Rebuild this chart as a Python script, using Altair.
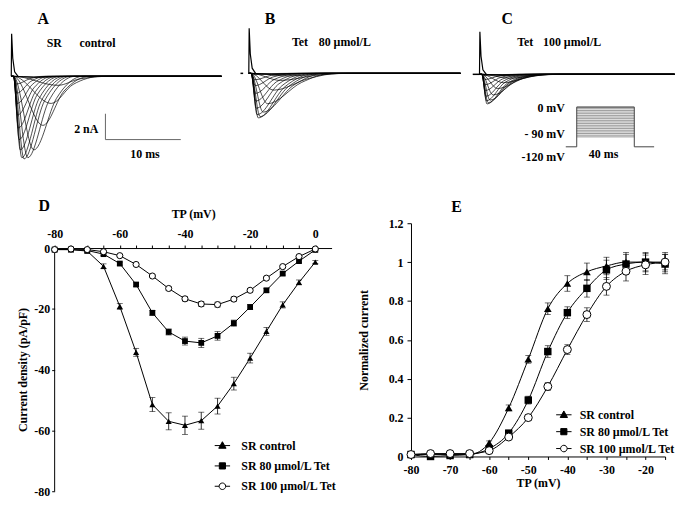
import altair as alt
import pandas as pd

FONT = "Liberation Serif"

# ---------------- Panel D: I-V relation (pA/pF) ----------------
tp_d = [-80, -75, -70, -65, -60, -55, -50, -45, -40, -35, -30, -25, -20, -15, -10, -5, 0]
ctrl_d = [-0.5, -0.5, -1.0, -6.0, -19.2, -34.3, -51.5, -57.0, -58.3, -56.8, -52.0, -44.6, -36.2, -27.4, -18.7, -11.3, -4.6]
ctrl_d_err = [0.3, 0.3, 0.4, 0.8, 1.0, 1.3, 2.3, 2.8, 3.0, 2.8, 2.6, 2.1, 1.6, 1.3, 1.0, 0.8, 0.5]
tet80_d = [-0.5, -0.5, -0.8, -2.0, -5.1, -12.0, -21.3, -27.6, -30.6, -31.2, -28.9, -24.7, -19.4, -13.9, -8.4, -4.3, -0.6]
tet80_d_err = [0.2, 0.2, 0.3, 0.4, 0.5, 0.6, 0.8, 1.0, 1.3, 1.5, 1.4, 1.0, 0.8, 0.6, 0.5, 0.4, 0.3]
tet100_d = [-0.5, -0.3, -0.5, -1.2, -2.5, -5.4, -9.2, -13.3, -16.7, -18.4, -18.6, -16.8, -13.9, -9.9, -6.1, -2.8, -0.3]
tet100_d_err = [0.2, 0.2, 0.2, 0.3, 0.3, 0.4, 0.5, 0.6, 0.7, 0.8, 0.8, 0.7, 0.6, 0.5, 0.4, 0.3, 0.2]

# ---------------- Panel E: activation curves ----------------
tp_e = [-80, -75, -70, -65, -60, -55, -50, -45, -40, -35, -30, -25, -20, -15]
ctrl_e = [0.01, 0.01, 0.01, 0.01, 0.07, 0.25, 0.50, 0.76, 0.89, 0.95, 0.98, 1.0, 1.0, 1.0]
ctrl_e_err = [0.005, 0.005, 0.005, 0.005, 0.01, 0.015, 0.02, 0.03, 0.04, 0.045, 0.045, 0.05, 0.045, 0.04]
tet80_e = [0.01, 0.0, 0.005, 0.01, 0.04, 0.12, 0.29, 0.54, 0.74, 0.865, 0.96, 0.99, 1.0, 0.99]
tet80_e_err = [0.005, 0.005, 0.005, 0.005, 0.01, 0.015, 0.02, 0.03, 0.03, 0.045, 0.05, 0.05, 0.05, 0.05]
tet100_e = [0.01, 0.015, 0.015, 0.015, 0.03, 0.10, 0.20, 0.36, 0.55, 0.73, 0.875, 0.953, 0.986, 1.0]
tet100_e_err = [0.005, 0.005, 0.005, 0.005, 0.01, 0.01, 0.015, 0.02, 0.025, 0.035, 0.045, 0.05, 0.05, 0.05]

series_names = ["SR control", "SR 80 µmol/L Tet", "SR 100 µmol/L Tet"]

# ---------------- Panels A-C: current traces (ms, nA) ----------------
A_tpk = [3.0, 3.0, 3.0, 6.2, 5.3, 4.2, 3.0, 2.2, 1.7, 1.4, 1.2, 1.05, 0.95, 0.85, 0.8, 0.75, 0.7]
A_ipk = [-0.05, -0.05, -0.1, -0.7, -2.1, -3.8, -5.7, -6.3, -6.4, -6.3, -5.7, -4.9, -4.0, -3.0, -2.1, -1.3, -0.6]
A_t30 = [6.0, 6.0, 6.0, 9.0, 8.2, 7.0, 6.0, 5.0, 4.4, 4.0, 3.7, 3.4, 3.2, 3.0, 2.8, 2.6, 2.5]
A_tend = [10, 10, 10, 13, 12, 10.5, 9.5, 8.5, 8.0, 7.5, 7.0, 6.5, 6.0, 5.5, 5.0, 4.6, 4.3]
A_tlast = 27.9

B_tpk = [3.0, 3.0, 3.0, 5.0, 4.2, 3.3, 2.5, 1.9, 1.5, 1.25, 1.1, 1.0, 0.95, 0.9, 0.85, 0.8, 0.75]
B_ipk = [-0.05, -0.05, -0.1, -0.2, -0.55, -1.3, -2.35, -3.0, -3.35, -3.45, -3.2, -2.7, -2.15, -1.55, -0.95, -0.5, -0.1]
B_t30 = [7.0, 7.0, 7.0, 9.5, 8.8, 8.0, 7.0, 6.0, 5.3, 4.8, 4.4, 4.0, 3.7, 3.4, 3.2, 3.0, 2.8]
B_tend = [11, 11, 11, 14, 13, 12, 11, 10, 9.5, 9, 8.5, 8, 7.5, 7, 6.5, 6, 5.5]
B_tlast = 28.1

C_tpk = [3.0, 3.0, 3.0, 4.8, 4.0, 3.2, 2.4, 1.8, 1.4, 1.15, 1.0, 0.92, 0.86, 0.8, 0.76, 0.72, 0.7]
C_ipk = [-0.05, -0.04, -0.06, -0.14, -0.3, -0.65, -1.1, -1.6, -2.0, -2.2, -2.3, -2.05, -1.7, -1.25, -0.8, -0.4, -0.08]
C_t30 = [6.0, 6.0, 6.0, 8.0, 7.4, 6.6, 5.8, 5.0, 4.4, 4.0, 3.7, 3.4, 3.2, 3.0, 2.8, 2.6, 2.5]
C_tend = [9, 9, 9, 11, 10.5, 10, 9.5, 9, 8.5, 8, 7.5, 7, 6.5, 6, 5.5, 5.2, 5]
C_tlast = 25.9

onset_ms = 0.3
spike_t = [0.0, 0.05, 0.2, 0.45, 0.9]
A_spike = [0.0, 3.3, 1.4, 0.35, 0.0]
B_spike = [0.0, 3.5, 1.5, 0.4, 0.0]
C_spike = [0.0, 3.3, 1.4, 0.35, 0.0]
B_hold_t = [-1.1, -0.75]
C_hold_t = [-0.9, 0.0]

# scale bar (panel A): 10 ms x 2 nA
bar_t = [12.5, 22.5]
bar_i = [-2.9, -4.9]

# voltage protocol (panel C)
prot_t = [-7.6, 0, 0, 40, 40, 53.8]
prot_v = [-120, -120, 0, 0, -120, -120]
prot_levels = [0, -5, -10, -15, -20, -25, -30, -35, -40, -45, -50, -55, -60, -65, -70, -75, -80, -85, -90]


# ---------------- helpers ----------------
def label(text, x, y, size=12, align="left"):
    return alt.Chart(pd.DataFrame({"t": [text]})).mark_text(
        align=align, baseline="middle", font=FONT, fontWeight="bold", fontSize=size, color="black"
    ).encode(text="t:N", x=alt.value(x), y=alt.value(y))


def trace_df(tpk, ipk, t30, tend, t_last):
    rows = []
    for k, (a, b, c, d) in enumerate(zip(tpk, ipk, t30, tend)):
        pts = [(0.0, 0.0), (onset_ms, 0.0), (a, b), (c, 0.3 * b), (d, 0.0), (t_last, 0.0)]
        for t, i in pts:
            rows.append({"trace": k, "t": t, "I": i})
    return pd.DataFrame(rows)


def trace_panel(tpk, ipk, t30, tend, t_last, spike, hold_t, xdom, ydom):
    x = alt.X("t:Q", scale=alt.Scale(domain=xdom, nice=False, zero=False), axis=None)
    y = alt.Y("I:Q", scale=alt.Scale(domain=ydom, nice=False, zero=False), axis=None)
    tr = trace_df(tpk, ipk, t30, tend, t_last)
    lines = alt.Chart(tr).mark_line(color="black", strokeWidth=0.7, interpolate="monotone").encode(
        x=x, y=y, detail="trace:N")
    sp = alt.Chart(pd.DataFrame({"t": spike_t, "I": spike})).mark_line(
        color="black", strokeWidth=1.2).encode(x=x, y=y)
    layers = [lines, sp]
    if hold_t:
        hd = alt.Chart(pd.DataFrame({"t": hold_t, "I": [0.0, 0.0]})).mark_line(
            color="black", strokeWidth=1.5).encode(x=x, y=y)
        layers.append(hd)
    return layers, x, y


H_TOP = 160
LET_Y = 9

# Panel A (its view starts where panel D's plot starts; traces run further left)
A_LEFT = 5.76
layA, xA, yA = trace_panel(A_tpk, A_ipk, A_t30, A_tend, A_tlast, A_spike, None, [A_LEFT, 30.0], [-7.15, 5.15])
bar_v = alt.Chart(pd.DataFrame({"t": [bar_t[0]], "I": [bar_i[0]], "I2": [bar_i[1]]})).mark_rule(
    color="#666", strokeWidth=1).encode(x=xA, y=yA, y2="I2:Q")
bar_h = alt.Chart(pd.DataFrame({"t": [bar_t[0]], "t2": [bar_t[1]], "I": [bar_i[1]]})).mark_rule(
    color="#666", strokeWidth=1).encode(x=xA, x2="t2:Q", y=yA)
panelA = alt.layer(
    *layA, bar_v, bar_h,
    label("A", -11.5, LET_Y, 16, "center"),
    label("SR", -8, 33),
    label("control", 25, 33),
    label("2 nA", 44, 120, 12, "right"),
    label("10 ms", 91, 145, 12, "center"),
).properties(width=184, height=H_TOP)

# Panel B
layB, xB, yB = trace_panel(B_tpk, B_ipk, B_t30, B_tend, B_tlast, B_spike, B_hold_t, [-1.0, 29.3], [-7.38, 4.92])
panelB = alt.layer(
    *layB,
    label("B", 29, LET_Y, 16, "center"),
    label("Tet", 51, 32),
    label("80 µmol/L", 78, 32),
).properties(width=230, height=H_TOP)

# Panel C with voltage protocol (own scales)
C_W = 207
layC, xC, yC = trace_panel(C_tpk, C_ipk, C_t30, C_tend, C_tlast, C_spike, C_hold_t, [-1.19, 26.08], [-7.31, 5.0])
xP = alt.X("t:Q", scale=alt.Scale(domain=[-73.8, 69.0], nice=False, zero=False), axis=None)
yP = alt.Y("v:Q", scale=alt.Scale(domain=[-186, 294], nice=False, zero=False), axis=None)
stripes = alt.Chart(pd.DataFrame({"t": [0] * len(prot_levels), "t2": [40] * len(prot_levels), "v": prot_levels})).mark_rule(
    color="#8a8a8a", strokeWidth=0.9).encode(x=xP, x2="t2:Q", y=yP)
outline = alt.Chart(pd.DataFrame({"t": prot_t, "v": prot_v, "o": list(range(len(prot_t)))})).mark_line(
    color="#444", strokeWidth=1).encode(x=xP, y=yP, order="o:Q")
trace_part = alt.layer(*layC)
prot_part = alt.layer(stripes, outline)
panelC = alt.layer(
    trace_part, prot_part,
    label("C", 37, LET_Y, 16, "center"),
    label("Tet", 47, 32),
    label("100 µmol/L", 73, 32),
    label("0  mV", 95, 99, 12, "right"),
    label("- 90 mV", 95, 125, 12, "right"),
    label("-120  mV", 95, 148, 12, "right"),
    label("40 ms", 134, 145, 12, "center"),
).resolve_scale(x="independent", y="independent").properties(width=C_W, height=H_TOP)

top = alt.hconcat(panelA, panelB, panelC, spacing=0)


# ---------------- Panels D and E ----------------
def long_df(xs, series_vals, series_errs):
    rows = []
    for name, vals, errs in zip(series_names, series_vals, series_errs):
        for v, m, e in zip(xs, vals, errs):
            rows.append({"series": name, "V": v, "I": m, "lo": m - e, "hi": m + e})
    return pd.DataFrame(rows)


dfD = long_df(tp_d, [ctrl_d, tet80_d, tet100_d], [ctrl_d_err, tet80_d_err, tet100_d_err])
dfE = long_df(tp_e, [ctrl_e, tet80_e, tet100_e], [ctrl_e_err, tet80_e_err, tet100_e_err])

legend_paths = [
    "M-2,0H2M0,-1L0.95,0.7H-0.95Z",
    "M-2,0H2M-0.8,-0.8H0.8V0.8H-0.8Z",
    "M-2,0H-0.85M0.85,0H2M0.85,0A0.85,0.85,0,1,1,-0.85,0A0.85,0.85,0,1,1,0.85,0Z",
]


def make_panel(df, xenc, yfn, sizes, lx, ly, rowpad, loff, interp, cap):
    line = alt.Chart(df).mark_line(color="black", strokeWidth=1, interpolate=interp).encode(
        x=xenc, y=yfn("I"), detail="series:N")
    err = alt.Chart(df).mark_rule(color="black", strokeWidth=0.8).encode(x=xenc, y=yfn("lo"), y2="hi:Q")
    cap_lo = alt.Chart(df).mark_tick(orient="horizontal", size=cap, thickness=0.8, color="black").encode(
        x=xenc, y=yfn("lo"))
    cap_hi = alt.Chart(df).mark_tick(orient="horizontal", size=cap, thickness=0.8, color="black").encode(
        x=xenc, y=yfn("hi"))
    p1 = alt.Chart(df).transform_filter(alt.datum.series == series_names[0]).mark_point(
        shape="triangle-up", filled=True, color="black", size=sizes[0], opacity=1).encode(x=xenc, y=yfn("I"))
    p2 = alt.Chart(df).transform_filter(alt.datum.series == series_names[1]).mark_point(
        shape="square", filled=True, color="black", size=sizes[1], opacity=1).encode(x=xenc, y=yfn("I"))
    p3 = alt.Chart(df).transform_filter(alt.datum.series == series_names[2]).mark_point(
        shape="circle", filled=True, fill="white", stroke="black", strokeWidth=1, size=sizes[2], opacity=1
    ).encode(x=xenc, y=yfn("I"))
    lg = alt.Legend(title=None, orient="none", legendX=lx, legendY=ly, symbolSize=60, symbolStrokeWidth=1,
                    rowPadding=rowpad, labelOffset=loff, padding=0, labelFont=FONT, labelFontSize=12,
                    labelFontWeight="bold", labelColor="black")
    leg = alt.Chart(df).transform_filter("false").mark_point(filled=True, opacity=1).encode(
        x=xenc, y=yfn("I"),
        shape=alt.Shape("series:N", scale=alt.Scale(domain=series_names, range=legend_paths), legend=lg),
        fill=alt.Fill("series:N", scale=alt.Scale(domain=series_names, range=["black", "black", "white"]), legend=lg),
        stroke=alt.Stroke("series:N", scale=alt.Scale(domain=series_names, range=["black", "black", "black"]), legend=lg),
    )
    return [line, err, cap_lo, cap_hi, p1, p2, p3, leg]


# D: plot area extended 25 px above the 0 line so that it lines up with E
D_EXTRA = 25
D_PX_PER_UNIT = 3.06
D_TOP = D_EXTRA / D_PX_PER_UNIT
D_H = round(80 * D_PX_PER_UNIT) + D_EXTRA

xD = alt.X("V:Q", scale=alt.Scale(domain=[-80, 5], nice=False, zero=False),
           axis=alt.Axis(orient="top", offset=-D_EXTRA, values=list(range(-80, 1, 5)),
                         labelExpr="datum.value % 20 == 0 ? datum.value + '' : ''",
                         title="TP (mV)", grid=False, tickSize=3, labelPadding=5, titlePadding=7,
                         labelFlush=False, labelOverlap=False))


def yD(field):
    return alt.Y(f"{field}:Q", scale=alt.Scale(domain=[-80, D_TOP], nice=False, zero=False),
                 axis=alt.Axis(values=[-80, -60, -40, -20, 0], labelExpr="datum.value + ''",
                               title="Current density (pA/pF)", grid=False, tickSize=3, labelPadding=2,
                               titlePadding=4, labelFlush=False, domain=False,
                               titleY=D_EXTRA + 40 * D_PX_PER_UNIT))


d_axis_line = alt.Chart(pd.DataFrame({"V": [-80], "I": [-80], "I2": [0]})).mark_rule(
    color="black", strokeWidth=1).encode(x=xD, y=yD("I"), y2="I2:Q")

spacer = alt.Chart(pd.DataFrame({"s": ["."]})).mark_text(opacity=0, fontSize=10, align="left").encode(
    text="s:N", x=alt.value(-46), y=alt.value(30))

panelD = alt.layer(
    d_axis_line,
    *make_panel(dfD, xD, yD, [38, 34, 38], 163, 218, 8.5, 13, "linear", 6),
    label("D", -10.5, -17, 16, "center"),
    spacer,
).properties(width=279, height=D_H)

xE = alt.X("V:Q", scale=alt.Scale(domain=[-80, -15], nice=False, zero=False),
           axis=alt.Axis(values=list(range(-80, -14, 5)),
                         labelExpr="datum.value % 10 == 0 ? datum.value + '' : ''",
                         title="TP (mV)", grid=False, tickSize=3, labelPadding=5, titlePadding=2,
                         labelFlush=False, labelOverlap=False))


def yE(field):
    return alt.Y(f"{field}:Q", scale=alt.Scale(domain=[0, 1.2], nice=False, zero=False),
                 axis=alt.Axis(values=[0, 0.2, 0.4, 0.6, 0.8, 1.0, 1.2], format=".1~f",
                               title="Normalized current", grid=False, tickSize=4, labelPadding=4,
                               titlePadding=18, labelFlush=False))


panelE = alt.layer(
    *make_panel(dfE, xE, yE, [60, 56, 64], 148, 187, 5, 10, "monotone", 6),
    label("E", 46, -16.5, 16, "center"),
).properties(width=256, height=235)

bottom = alt.hconcat(panelD, panelE, spacing=20).resolve_scale(
    shape="independent", fill="independent", stroke="independent"
).resolve_legend(shape="independent", fill="independent", stroke="independent")

chart = alt.vconcat(top, bottom, spacing=30).properties(padding=0).configure_view(
    stroke=None
).configure_axis(
    domainColor="black", tickColor="black", labelColor="black", titleColor="black",
    labelFont=FONT, labelFontSize=12, labelFontWeight="bold",
    titleFont=FONT, titleFontSize=12, titleFontWeight="bold",
    domainWidth=1, tickWidth=1,
)

chart.save("out.html", embed_options={"renderer": "svg", "actions": False})
